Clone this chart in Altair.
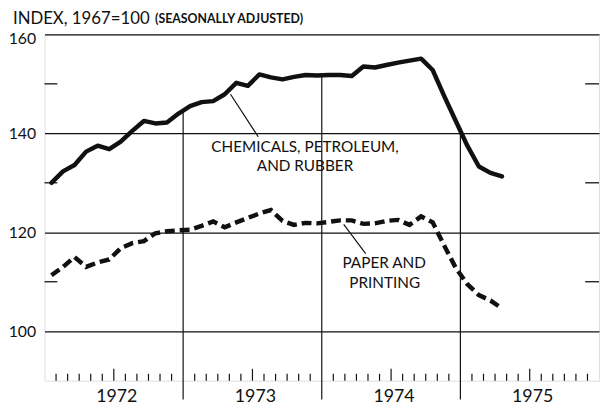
import altair as alt
import pandas as pd

# ---- data (monthly, Jan 1972 - Apr 1975) ----
months = [f"{1972 + i // 12}-{i % 12 + 1:02d}" for i in range(40)]
chemicals = [130.0, 132.3, 133.6, 136.3, 137.5, 136.8, 138.3, 140.5, 142.5, 142.0, 142.2, 144.0,
             145.5, 146.3, 146.5, 147.9, 150.2, 149.6, 151.9, 151.3, 150.9, 151.4, 151.8, 151.7,
             151.8, 151.8, 151.6, 153.5, 153.3, 153.8, 154.3, 154.7, 155.1, 152.8, 147.5, 142.5,
             137.5, 133.3, 132.0, 131.3]
paper = [111.3, 113.0, 115.0, 113.0, 113.9, 114.5, 116.8, 117.8, 118.2, 119.8, 120.2, 120.4,
         120.5, 121.3, 122.2, 121.0, 122.0, 122.9, 123.8, 124.5, 122.3, 121.5, 121.9, 121.8,
         122.1, 122.4, 122.4, 121.7, 121.8, 122.3, 122.5, 121.5, 123.2, 122.0, 117.3, 112.8,
         109.5, 107.3, 106.2, 104.6]
year_labels = ["1972", "1973", "1974", "1975"]
year_line_dates = ["1973-01", "1974-01", "1975-01"]
year_line_tops = [144.3, 151.7, 140.2]
y_ticks = [100, 120, 140, 160]
minor_y = [110, 130, 150]

W, H = 562, 351
FONT = "Lato"
INK = "#111111"


def mpos(ym, off=0.0):
    y, m = ym.split("-")
    return (int(y) - 1972) * 12 + int(m) - 1 + off


series = pd.DataFrame({
    "m": [mpos(d, 0.6) for d in months] * 2,
    "v": chemicals + paper,
    "s": ["chem"] * len(months) + ["paper"] * len(months),
})
chem_df = series[series.s == "chem"]
paper_df = series[series.s == "paper"]

xs = alt.Scale(domain=[0, 48], nice=False, zero=False)
ys = alt.Scale(domain=[90, 160], nice=False, zero=False)
X = lambda f: alt.X(f, scale=xs, axis=None)

# horizontal grid + y labels
grid = alt.Chart(pd.DataFrame({"v": y_ticks})).mark_rule(color=INK, strokeWidth=1.3, opacity=0).encode(
    y=alt.Y("v:Q", scale=ys, axis=alt.Axis(values=y_ticks, grid=True, gridColor=INK, gridWidth=1.3,
                                           gridOpacity=1, domain=False, ticks=False, labelFontSize=16,
                                           labelFont=FONT, labelColor=INK, labelPadding=9, title=None,
                                           labelOffset={"expr": "datum.value == 160 ? 4 : 0"}))
)

minor_df = pd.DataFrame({"v": minor_y})
minor_left = alt.Chart(minor_df).mark_rule(color=INK, strokeWidth=1.3).encode(
    y=alt.Y("v:Q", scale=ys), x=alt.value(0), x2=alt.value(13))
minor_right = alt.Chart(minor_df).mark_rule(color=INK, strokeWidth=1.3).encode(
    y=alt.Y("v:Q", scale=ys), x=alt.value(W - 14), x2=alt.value(W))

# vertical year lines
yl_df = pd.DataFrame({"m": [mpos(d) for d in year_line_dates], "top": year_line_tops})
year_lines = alt.Chart(yl_df).mark_rule(color=INK, strokeWidth=1.2).encode(
    x=X("m:Q"), y=alt.Y("top:Q", scale=ys), y2=alt.value(H + 19))

# monthly ticks along bottom
tick_pos = [k for k in range(1, 48) if k % 12 != 0]
short_df = pd.DataFrame({"m": [k for k in tick_pos if k % 12 != 6]})
tall_df = pd.DataFrame({"m": [k for k in tick_pos if k % 12 == 6]})
ticks_short = alt.Chart(short_df).mark_rule(color=INK, strokeWidth=1.2).encode(
    x=X("m:Q"), y=alt.value(H), y2=alt.value(H - 7))
ticks_tall = alt.Chart(tall_df).mark_rule(color=INK, strokeWidth=1.2).encode(
    x=X("m:Q"), y=alt.value(H), y2=alt.value(H - 12))

chem_line = alt.Chart(chem_df).mark_line(color=INK, strokeWidth=4.5, strokeJoin="round", strokeCap="round").encode(
    x=X("m:Q"), y=alt.Y("v:Q", scale=ys))
paper_line = alt.Chart(paper_df).mark_line(color=INK, strokeWidth=4.5, strokeDash=[10, 5], strokeCap="butt").encode(
    x=X("m:Q"), y=alt.Y("v:Q", scale=ys))

# leader lines
lead_df = pd.DataFrame({"m": [16.1, 25.9], "v": [147.9, 121.6], "m2": [18.5, 27.8], "v2": [139.3, 115.7]})
leaders = alt.Chart(lead_df).mark_rule(color=INK, strokeWidth=1.2).encode(
    x=X("m:Q"), y=alt.Y("v:Q", scale=ys), x2="m2:Q", y2="v2:Q")

lab_df = pd.DataFrame({
    "t": ["CHEMICALS, PETROLEUM,", "AND RUBBER", "PAPER AND", "PRINTING"],
    "m": [22.55, 22.55, 29.4, 29.45],
    "v": [137.3, 133.4, 113.7, 109.7],
})
labels = alt.Chart(lab_df).mark_text(font=FONT, fontSize=15.5, color=INK, align="center", baseline="middle").encode(
    x=X("m:Q"), y=alt.Y("v:Q", scale=ys), text="t:N")

yr_df = pd.DataFrame({"t": year_labels, "m": [6, 18, 30, 42]})
years = alt.Chart(yr_df).mark_text(font=FONT, fontSize=18, color=INK, align="center", baseline="middle", dx=3).encode(
    x=X("m:Q"), y=alt.value(H + 17), text="t:N")

t1 = alt.Chart(pd.DataFrame({"t": ["INDEX, 1967=100"]})).mark_text(
    font=FONT, fontSize=17, color=INK, align="left", baseline="alphabetic").encode(
    x=alt.value(-32), y=alt.value(-11), text="t:N")
t2 = alt.Chart(pd.DataFrame({"t": ["(SEASONALLY ADJUSTED)"]})).mark_text(
    font=FONT, fontSize=12.5, fontWeight="bold", color=INK, align="left", baseline="alphabetic").encode(
    x=alt.value(112), y=alt.value(-12), text="t:N")

chart = alt.layer(
    grid, minor_left, minor_right, year_lines, ticks_short, ticks_tall,
    leaders, paper_line, chem_line, labels, years, t1, t2
).properties(
    width=W, height=H,
    autosize=alt.AutoSizeParams(type="none"),
    padding={"left": 37, "top": 24, "right": 2, "bottom": 29},
).configure_view(stroke=INK, strokeWidth=1.5).configure(background="white")

chart.save("out.html", embed_options={"renderer": "svg", "actions": False})
